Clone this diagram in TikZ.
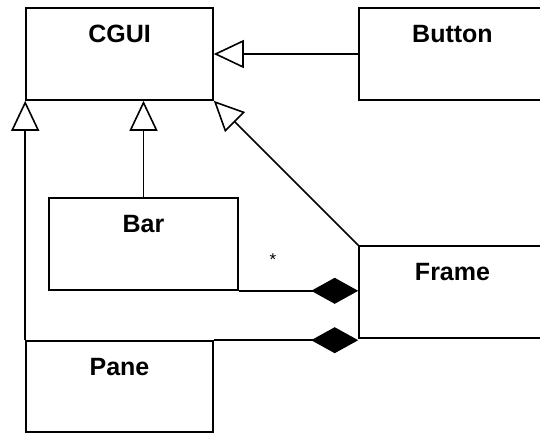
\documentclass[tikz,border=0pt]{standalone}
\usepackage{fontspec}
\setmainfont{Liberation Sans}
\usetikzlibrary{arrows.meta}
\tikzset{
  cls/.style={draw,line width=1.6pt,minimum width=187pt,minimum height=92pt,
    label={[clsname]north:#1}},
  clsname/.style={anchor=base,yshift=-35pt,font=\bfseries\fontsize{25}{30}\selectfont},
  inherit/.style={line width=1.6pt,-{Triangle[open,fill=white,length=30pt,width=28pt]}},
  compose/.style={line width=1.6pt,-{Diamond[length=47pt,width=26pt]}}
}
\begin{document}
\begin{tikzpicture}[x=1pt,y=-1pt]
\useasboundingbox (0,0) rectangle (540,434);
\node[cls=CGUI] (cgui) at (119.5,54) {};
\node[cls=Button] (button) at (452.5,54) {};
\node[cls=Bar,minimum width=189pt] (bar) at (143.5,244) {};
\node[cls=Frame] (frame) at (452.5,292) {};
\node[cls=Pane,minimum height=91pt] (pane) at (119.5,386.5) {};
\draw[inherit] (button) -- (cgui);
\draw[inherit] (bar.north) -- (bar.north |- cgui.south);
\draw[inherit] (pane.north west) -- (cgui.south west);
\draw[inherit] (frame.north west) -- (cgui.south east);
\draw[compose] (bar.south east) -- (bar.south east -| frame.west);
\draw[compose] (pane.north east) -- (pane.north east -| frame.west);
\node[font=\fontsize{17}{20}\selectfont] (mult) at (273,260) {*};
\end{tikzpicture}
\end{document}
